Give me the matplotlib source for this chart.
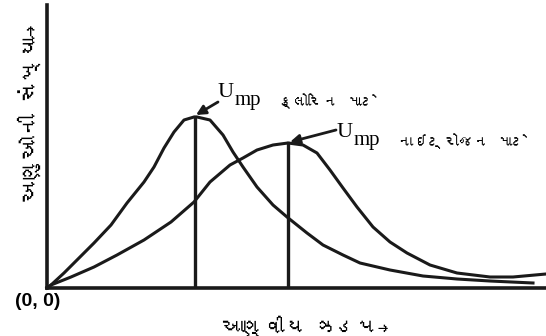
import matplotlib
matplotlib.use('Agg')
import matplotlib.pyplot as plt
from matplotlib import font_manager
from matplotlib.ft2font import FT2Font

# Distribution curves (speed, number of molecules), arbitrary units
cl_speed = [0, 4, 17, 30, 47, 64, 80, 97, 107, 117, 127, 137, 147, 150, 163, 176, 186, 196,
            210, 226, 240, 260, 276, 296, 313, 343, 376, 410, 443, 486]
cl_count = [0, 3, 15, 28, 45, 63, 85, 106, 121, 140, 156, 168, 171, 171, 168, 153, 136, 121,
            101, 83, 71, 55, 43, 33, 25, 18, 12, 9, 7, 5]

n2_speed = [0, 4, 24, 47, 70, 97, 124, 147, 163, 183, 196, 210, 226, 241, 256, 270, 283, 296,
            310, 326, 343, 360, 383, 410, 443, 466, 499]
n2_count = [0, 3, 11, 21, 33, 48, 66, 86, 106, 123, 130, 138, 143, 145, 143, 135, 118, 100,
            81, 61, 46, 35, 23, 15, 11, 11, 14]

cl_mp = (148, 171)
n2_mp = (241, 145)

x_label = 'આણ્વીય ઝડપ→'
y_label = 'અણુઓની સંખ્યા→'
cl_label = 'ક્લોરિન માટે'
n2_label = 'નાઇટ્રોજન માટે'


def find_font(ch):
    for f in font_manager.fontManager.ttflist:
        try:
            if ord(ch) in FT2Font(f.fname).get_charmap():
                return f.name
        except Exception:
            pass
    return None


guj = find_font('અ')
fam = [guj, 'DejaVu Sans'] if guj else ['DejaVu Sans']

fig = plt.figure(figsize=(5.46, 3.36), dpi=100)
ax = fig.add_axes([47 / 546, 48 / 336, 499 / 546, 283 / 336])

lw = 2.2
ax.plot(cl_speed, cl_count, color='#1a1a1a', lw=lw, solid_joinstyle='round', clip_on=False)
ax.plot(n2_speed, n2_count, color='#1a1a1a', lw=lw, solid_joinstyle='round', clip_on=False)
ax.plot([cl_mp[0], cl_mp[0]], [0, cl_mp[1]], color='#1a1a1a', lw=2.4)
ax.plot([n2_mp[0], n2_mp[0]], [0, n2_mp[1]], color='#1a1a1a', lw=2.4)

ax.set_xlim(0, 499)
ax.set_ylim(0, 283)
for s in ['top', 'right']:
    ax.spines[s].set_visible(False)
for s in ['left', 'bottom']:
    ax.spines[s].set_linewidth(2.6)
    ax.spines[s].set_color('#1a1a1a')
ax.set_xticks([])
ax.set_yticks([])

# U_mp labels with arrows
arrow = dict(arrowstyle='-|>', color='#1a1a1a', lw=2, mutation_scale=14,
             shrinkA=0, shrinkB=0)
ax.annotate('', xy=(cl_mp[0] + 1, cl_mp[1] + 2), xytext=(171, 186), arrowprops=arrow)
ax.annotate('', xy=(n2_mp[0] + 2, n2_mp[1] + 1), xytext=(289, 158), arrowprops=arrow)

ax.text(171, 191, 'U', fontsize=16, family='Liberation Serif', ha='left', va='baseline')
ax.text(188, 183, 'mp', fontsize=15, family='Liberation Serif', ha='left', va='baseline')
ax.text(231, 187, cl_label, fontsize=11, family=fam, ha='left', va='center')

ax.text(290, 151, 'U', fontsize=16, family='Liberation Serif', ha='left', va='baseline')
ax.text(307, 143, 'mp', fontsize=15, family='Liberation Serif', ha='left', va='baseline')
ax.text(351, 147, n2_label, fontsize=11, family=fam, ha='left', va='center')

ax.text(-9, -13, '(0, 0)', fontsize=14, family='Liberation Sans', weight='bold',
        ha='center', va='center')
ax.text(258, -38, x_label, fontsize=15, family=fam, ha='center', va='center')
ax.text(-18, 175, y_label, fontsize=16, family=fam, ha='center', va='center', rotation=90)

fig.savefig('out.png', dpi=100)
